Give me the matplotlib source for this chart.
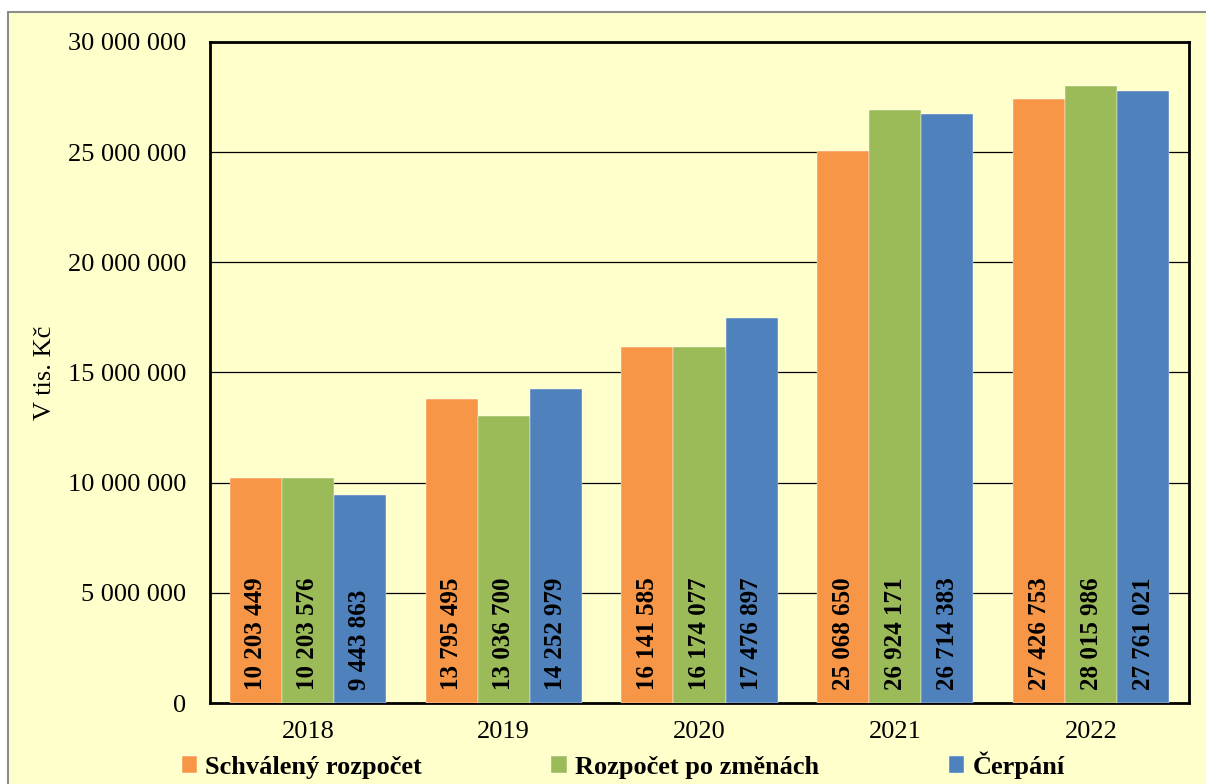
import matplotlib

matplotlib.use("Agg")
import matplotlib.pyplot as plt
import numpy as np
from matplotlib.patches import Rectangle
from matplotlib.ticker import FuncFormatter

years = ["2018", "2019", "2020", "2021", "2022"]
schvaleny = [10203449, 13795495, 16141585, 25068650, 27426753]
po_zmenach = [10203576, 13036700, 16174077, 26924171, 28015986]
cerpani = [9443863, 14252979, 17476897, 26714383, 27761021]

series = [
    ("Schválený rozpočet", schvaleny, "#F79646"),
    ("Rozpočet po změnách", po_zmenach, "#9BBB59"),
    ("Čerpání", cerpani, "#4F81BD"),
]

BG = "#FFFFCC"


def fmt_space(v, _pos=None):
    return f"{int(round(v)):,}".replace(",", " ")


plt.rcParams["font.family"] = ["Liberation Serif", "DejaVu Serif"]

fig = plt.figure(figsize=(12.06, 7.84), dpi=100, facecolor="white")
# yellow chart area with grey frame
fig.patches.append(
    Rectangle((8 / 1206, -0.01), 1.02, 1 - 12 / 784 + 0.01, transform=fig.transFigure,
              facecolor=BG, edgecolor="#8c8c8c", linewidth=1.5, zorder=-10)
)

ax = fig.add_axes([210 / 1206, 1 - 703 / 784, 979 / 1206, 661 / 784])
ax.set_facecolor(BG)

x = np.arange(len(years))
width = 0.266
for i, (name, vals, color) in enumerate(series):
    pos = x + (i - 1) * width
    ax.bar(pos, vals, width, color=color, label=name, zorder=3,
           edgecolor="white", linewidth=0.3)
    for px, v in zip(pos, vals):
        ax.text(px, 570000, fmt_space(v), rotation=90, ha="center", va="bottom",
                fontsize=18, fontweight="bold", color="black", zorder=4)

ax.set_xlim(-0.5, len(years) - 0.5)
ax.set_ylim(0, 30000000)
ax.set_yticks(np.arange(0, 30000001, 5000000))
ax.yaxis.set_major_formatter(FuncFormatter(fmt_space))
ax.set_xticks(x)
ax.set_xticklabels(years)
ax.tick_params(axis="both", length=0, labelsize=19)
ax.tick_params(axis="x", pad=13)
ax.tick_params(axis="y", pad=17)
ax.grid(axis="y", color="black", linewidth=0.9, zorder=0)
for s in ax.spines.values():
    s.set_linewidth(2)
    s.set_color("black")

ax.set_ylabel("V tis. Kč", fontsize=19, labelpad=9)

ax.legend(loc="center", bbox_to_anchor=(0.422, -0.094), ncol=3, frameon=False,
          prop={"weight": "bold", "size": 19}, handlelength=0.6, handleheight=0.6,
          handletextpad=0.3, columnspacing=4.9)

fig.savefig("out.png", dpi=100, facecolor="white")
